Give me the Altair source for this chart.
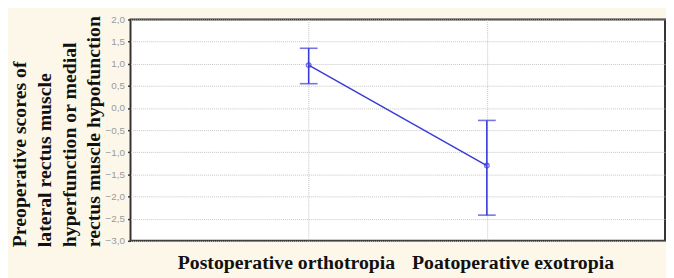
import altair as alt
import pandas as pd

groups = ["Postoperative orthotropia", "Poatoperative exotropia"]
means = [0.97, -1.30]
lower = [0.55, -2.42]
upper = [1.35, -0.28]
ytick_values = [2, 1.5, 1, 0.5, 0, -0.5, -1, -1.5, -2, -2.5, -3]

df = pd.DataFrame({"group": groups, "mean": means, "lower": lower, "upper": upper})

blue = "#3a3ad8"
serif = "Liberation Serif"

xaxis = alt.Axis(
    title=None,
    labelFont=serif,
    labelFontSize=20,
    labelFontWeight="bold",
    labelColor="#111",
    labelAngle=0,
    labelPadding=12,
    labelLimit=0,
    labelOffset={
        "condition": {"test": "datum.value == 'Postoperative orthotropia'", "value": -23},
        "value": 26,
    },
    ticks=False,
    domain=False,
    grid=True,
    gridColor="#c4c4c4",
    gridDash=[1, 1],
)
xscale = alt.Scale(type="point", padding=1)

yscale = alt.Scale(domain=[-3, 2], nice=False, zero=False)
yaxis = alt.Axis(
    values=ytick_values,
    labelExpr="replace(format(datum.value, '.1f'), '.', ',')",
    labelFont="Liberation Sans",
    labelFontSize=10,
    labelColor="#999",
    labelOverlap=False,
    labelFlush=False,
    labelPadding=3,
    tickSize=3,
    tickColor="#333",
    tickWidth=1.5,
    domain=False,
    grid=True,
    gridColor="#c4c4c4",
    gridDash=[1, 1],
    title=[
        "Preoperative scores of",
        "lateral rectus muscle",
        "hyperfunction or medial",
        "rectus muscle hypofunction",
    ],
    titleFont=serif,
    titleFontSize=20,
    titleFontWeight="bold",
    titleColor="#111",
    titleLineHeight=25,
    titleAngle=270,
    titleX=-112,
    titleY=230,
    titleAlign="left",
    titleBaseline="middle",
)


def X():
    return alt.X("group:N", sort=groups, scale=xscale, axis=xaxis)


def Y(field):
    return alt.Y(field, scale=yscale, axis=yaxis)


base = alt.Chart(df)

line = base.mark_line(color=blue, strokeWidth=1.5).encode(x=X(), y=Y("mean:Q"))
pts = base.mark_point(color=blue, size=22, filled=False, strokeWidth=1.3).encode(
    x=X(), y=Y("mean:Q")
)
rules = base.mark_rule(color=blue, strokeWidth=1.6).encode(
    x=X(), y=Y("lower:Q"), y2="upper:Q"
)
cap_lo = base.mark_tick(color=blue, size=18, thickness=1.6).encode(x=X(), y=Y("lower:Q"))
cap_hi = base.mark_tick(color=blue, size=18, thickness=1.6).encode(x=X(), y=Y("upper:Q"))

chart = (
    alt.layer(line, rules, cap_lo, cap_hi, pts)
    .properties(
        width=541,
        height=224,
        background="#fdf7ea",
        autosize=alt.AutoSizeParams(type="none"),
        padding={"left": 124, "top": 10, "right": 1, "bottom": 36},
    )
    .configure_view(stroke="#333", strokeWidth=2, fill="white")
)

chart.save("out.html", embed_options={"renderer": "svg", "actions": False})
